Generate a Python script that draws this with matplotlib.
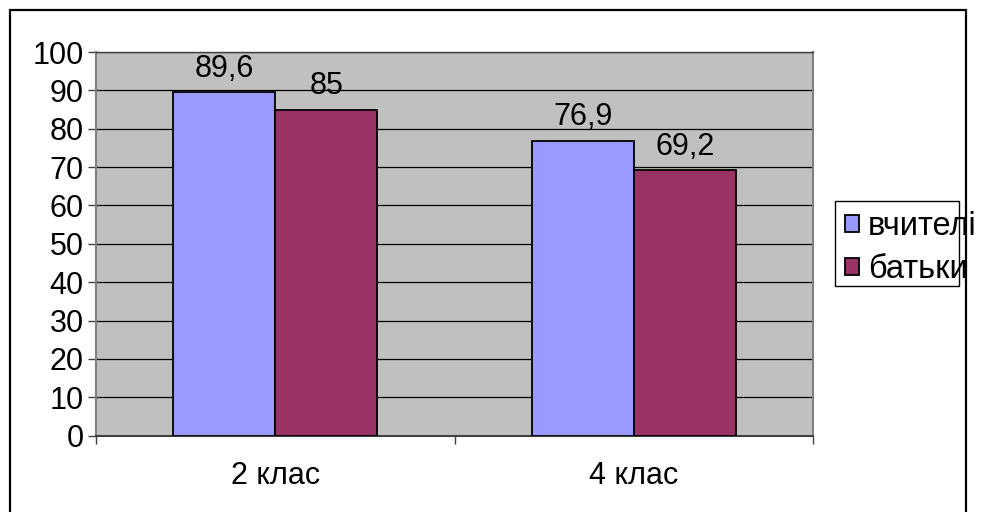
import numpy as np
import matplotlib.pyplot as plt
from matplotlib.patches import Rectangle

plt.rcParams['font.family'] = ['Liberation Sans', 'DejaVu Sans']

# survey results by class, percent
classes = ['2 клас', '4 клас']
series = ['вчителі', 'батьки']
teachers = [89.6, 76.9]
parents = [85, 69.2]
colors = ['#9999FF', '#993366']
yticks = list(range(0, 101, 10))

fs = 22
fig = plt.figure(figsize=(9.81, 5.12), dpi=100)
W, H = 981, 512

# outer chart frame
fig.patches.append(Rectangle((10 / W, -0.05), 956 / W, 1.05 - 10 / H,
                             transform=fig.transFigure, fill=False,
                             edgecolor='black', linewidth=1.6))

ax = fig.add_axes([96 / W, 1 - 435.7 / H, (813 - 96) / W, (435.7 - 52) / H])
ax.set_facecolor('#C0C0C0')

x = np.arange(len(classes))
w = 0.285
bars = []
for i, vals in enumerate([teachers, parents]):
    b = ax.bar(x + (i - 0.5) * w, vals, w, color=colors[i],
               edgecolor='black', linewidth=1.3, label=series[i], zorder=3)
    bars.append(b)
    for rect, v in zip(b, vals):
        ax.annotate(f"{v:g}".replace('.', ','),
                    (rect.get_x() + rect.get_width() / 2, v),
                    xytext=(0, 11), textcoords='offset points',
                    ha='center', va='baseline', fontsize=fs)

ax.set_ylim(0, 100)
ax.set_xlim(-0.5, 1.5)
ax.set_yticks(yticks)
ax.tick_params(axis='y', labelsize=fs, length=6, width=1, pad=3, color='#404040')
ax.set_xticks(x)
ax.set_xticklabels(classes)
ax.tick_params(axis='x', which='major', labelsize=fs, length=0, pad=18)
ax.set_xticks([-0.5, 0.5, 1.5], minor=True)
ax.tick_params(axis='x', which='minor', length=6, width=1, color='#404040')
ax.yaxis.grid(True, color='black', linewidth=0.9, zorder=1)
ax.set_axisbelow(True)

for s in ['left', 'right']:
    ax.spines[s].set_color('#808080')
    ax.spines[s].set_linewidth(1.5)
ax.spines['bottom'].set_color('#404040')
ax.spines['bottom'].set_linewidth(1.5)
ax.spines['top'].set_color('#404040')
ax.spines['top'].set_linewidth(1)

# legend frame is narrower than its text
fig.patches.append(Rectangle((835 / W, 1 - 286 / H), 124 / W, 85 / H,
                             transform=fig.transFigure, fill=False,
                             edgecolor='black', linewidth=1))
fig.legend(handles=bars, labels=series, loc='upper left',
           bbox_to_anchor=(845 / W, 1 - 211 / H), frameon=False,
           fontsize=23.5, handlelength=0.43, handleheight=0.43,
           handletextpad=0.28, labelspacing=0.38, borderpad=0,
           borderaxespad=0)

fig.savefig('out.png', dpi=100)
